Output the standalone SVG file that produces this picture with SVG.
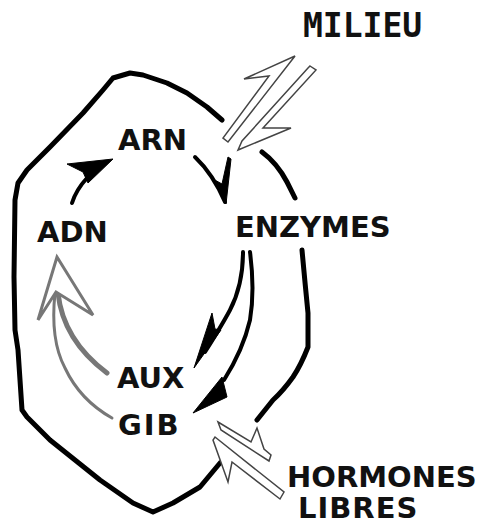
<svg xmlns="http://www.w3.org/2000/svg" width="483" height="524" viewBox="0 0 483 524">
<style>
.lbl{font-family:"DejaVu Sans","Verdana",sans-serif;font-weight:bold;font-size:29px;fill:#111}
.mono{font-family:"DejaVu Sans Mono","Liberation Mono",monospace;font-weight:bold;font-size:33px;fill:#111}
.cell{fill:none;stroke:#000;stroke-width:5;stroke-linecap:round;stroke-linejoin:round}
.blk{fill:none;stroke:#000;stroke-width:4;stroke-linecap:round}
.wedge{fill:#000;stroke:#000;stroke-width:1;stroke-linejoin:round}
.gry{fill:none;stroke:#777;stroke-linecap:round}
.bolt{fill:#fff;stroke:#444;stroke-width:1.5;stroke-linejoin:miter}
</style>
<rect width="483" height="524" fill="#fff"/>
<g id="cell">
<path class="cell" d="M222,120 L207,107 L187,93 L167,83 L143,75 L130,73 L113,78 L103,90 L83,113 L50,147 L27,170 L18,183 L15,200 L14,277 L15,330 L18,350 L22,410 L27,417 L50,440 L100,480 L133,503 L153,512 L173,503 L200,487 L220,463"/>
<path class="cell" d="M262,152 Q277,163 287,182 L295,198"/>
<path class="cell" d="M302,250 Q305,283 308,313 L308,347 Q301,365 293,377 Q283,391 273,400 L257,420"/>
</g>
<g id="connectors">
<g id="adn-arn">
<path class="blk" d="M72,203 Q76,190 87,178"/>
<polygon class="wedge" points="113,159 67,164 83,172 88,183"/>
</g>
<g id="arn-enzymes">
<path class="blk" d="M195,157 Q213,174 225,202"/>
<polygon class="wedge" points="226,204 213,179 222,184 228,157 231,159"/>
</g>
<g id="enzymes-aux">
<path class="blk" d="M243,252 Q243,285 230,310 Q222,325 205,352" stroke-width="5"/>
<polygon class="wedge" points="212,313 194,368 221,330 215,329"/>
</g>
<g id="enzymes-gib">
<path class="blk" d="M250,252 Q255,290 250,320 Q243,350 224,380" stroke-width="5"/>
<polygon class="wedge" points="222,377 227,397 193,413"/>
</g>
<g id="aux-adn">
<path class="gry" stroke-width="5" d="M58,293 Q63,340 107,373"/>
</g>
<g id="gib-adn">
<path class="gry" stroke-width="3" d="M55,293 Q50,340 65,368 Q80,400 112,418"/>
</g>
<polygon id="adn-head" fill="#fff" stroke="#777" stroke-width="3" stroke-linejoin="miter" points="57,257 38,320 56,292 93,315"/>
<g id="milieu-arrow">
<polygon class="bolt" points="295,56 244,79 269,76 223,138 228,142"/>
<polygon class="bolt" points="310,66 316,70 263,128 291,128 238,150 242,141 308,68"/>
</g>
<g id="hormones-arrow">
<polygon class="bolt" points="218,422 251,442 257,428 264,449 271,455 269,461 221,430"/>
<polygon class="bolt" points="215,437 284,492 280,499 232,462 228,482 213,440"/>
</g>
</g>
<g id="node-arn"><text class="lbl" x="118" y="150">ARN</text></g>
<g id="node-adn"><text class="lbl" x="37" y="242">ADN</text></g>
<g id="node-enzymes"><text class="lbl" x="235" y="237">ENZYMES</text></g>
<g id="node-aux"><text class="lbl" x="117" y="388">AUX</text></g>
<g id="node-gib"><text class="lbl" x="118" y="435" letter-spacing="2">GIB</text></g>
<g id="node-milieu"><text class="mono" x="303" y="37">MILIEU</text></g>
<g id="node-hormones"><text class="lbl" x="287" y="487">HORMONES</text><text class="lbl" x="298" y="518" letter-spacing="1">LIBRES</text></g>
</svg>
